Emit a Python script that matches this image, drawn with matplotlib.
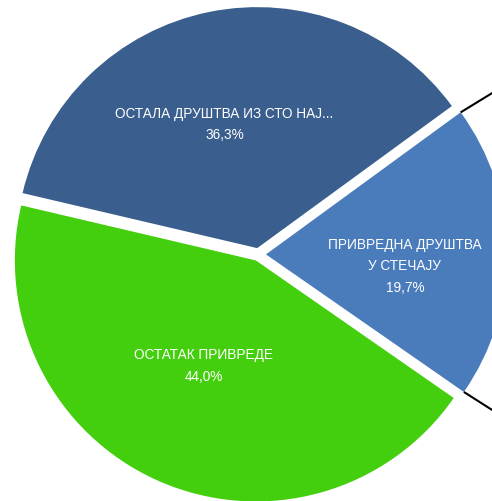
import numpy as np
import matplotlib
matplotlib.use("Agg")
import matplotlib.pyplot as plt

# share of the economy by group of companies
labels = ["ОСТАЛА ДРУШТВА ИЗ СТО НАЈ...", "ПРИВРЕДНА ДРУШТВА\nУ СТЕЧАЈУ", "ОСТАТАК ПРИВРЕДЕ"]
shares = [36.3, 19.7, 44.0]
colors = ["#3A5F8E", "#4A7CBC", "#44CF0E"]

# label placement inside each slice (radius, angle tweak in degrees)
label_r = [0.535, 0.578, 0.485]
label_dang = [3.2, -5.2, -2.5]

# secondary pie that the stretched slice feeds into (off to the right)
sub_x = 1.95
sub_r = 1.27

fig = plt.figure(figsize=(4.92, 5.02), dpi=100)
ax = fig.add_axes([0, 0, 1, 1])

R = 241.0
cx, cy = 258.5, 255.5
wedges, _ = ax.pie(shares, colors=colors, startangle=166.8, counterclock=False,
                   explode=[0.027, 0.031, 0.027], radius=1.0,
                   wedgeprops=dict(linewidth=0))

for w, lab, v, r, da in zip(wedges, labels, shares, label_r, label_dang):
    mid = np.deg2rad((w.theta1 + w.theta2) / 2 + da)
    x = w.center[0] + r * np.cos(mid)
    y = w.center[1] + r * np.sin(mid)
    txt = lab + "\n" + ("%.1f%%" % v).replace(".", ",")
    ax.text(x, y, txt, ha="center", va="center", color="white",
            fontsize=9.8, family="Liberation Sans", linespacing=1.68)

# connector lines from the "stečaj" slice to the secondary pie
lb = wedges[1]
for ang, sgn in ((lb.theta2, 1), (lb.theta1, -1)):
    a = np.deg2rad(ang)
    x0 = lb.center[0] + lb.r * np.cos(a)
    y0 = lb.center[1] + lb.r * np.sin(a)
    ax.plot([x0, sub_x], [y0, sgn * sub_r], color="black", lw=1.5,
            solid_capstyle="butt")

ax.set_xlim(-cx / R, (492 - cx) / R)
ax.set_ylim(-(502 - cy) / R, cy / R)
ax.set_aspect("auto")
ax.axis("off")

fig.savefig("out.png", dpi=100)
